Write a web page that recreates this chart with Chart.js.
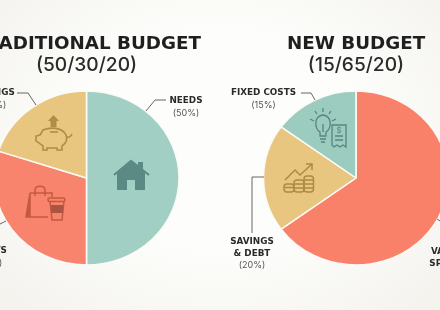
<!DOCTYPE html>
<html>
<head>
<meta charset="utf-8">
<title>Budget comparison</title>
<script src="https://cdn.jsdelivr.net/npm/chart.js@4/dist/chart.umd.min.js"></script>
<style>
html, body { margin: 0; padding: 0; }
body {
    width: 440px; height: 310px; position: relative; overflow: hidden;
    background: radial-gradient(ellipse at 50% 45%, #fdfdfb 45%, #f3f2ed 100%);
    font-family: "Inter", sans-serif; color: #2b2b2b;
}
canvas { position: absolute; top: 0; }
svg { position: absolute; left: 0; top: 0; }
.lbl { position: absolute; transform: translateX(-50%); text-align: center; white-space: nowrap; font-family: "DejaVu Sans", sans-serif; font-size: 8.8px; line-height: 11.5px; font-weight: 700; color: #2a2a2a; }
.lbl span { display: block; font-family: "Inter", sans-serif; font-size: 9px; font-weight: 400; color: #555; }
</style>
</head>
<body>
<canvas id="left-pie" width="253" height="310" style="left:-40px"></canvas>
<canvas id="right-pie" width="240" height="310" style="left:238px"></canvas>

<svg width="440" height="310" fill="none">
    <!-- leader lines -->
    <g stroke="#555" stroke-width="0.9">
        <polyline points="146,111 155,100 166,100"/>
        <polyline points="17,93 28,93 36,105"/>
        <polyline points="0,224 6,221"/>
        <polyline points="301,93 311,93 315,100"/>
        <polyline points="264,177 252,177 252,233"/>
        <polyline points="437,219 440,221"/>
    </g>
    <!-- house -->
    <g fill="#5b8a84">
        <path d="M117,172 L131,162 L145,172 V190 H135 V180 H127 V190 H117 Z"/>
        <rect x="138" y="162" width="5" height="9"/>
    </g>
    <polyline points="114,175 131,161 149,175" stroke="#5b8a84" stroke-width="2.2"/>
    <!-- piggy bank -->
    <path d="M53.500,115 L59,121 H56.500 V127 H50.500 V121 H48 Z" fill="#b08d47"/>
    <g stroke="#b08d47" stroke-width="1.600">
        <path d="M43,130 C50,127 62,127 66,135 C68,140 65,144 62,146 V150 H57 V148 H47 V150 H43 V146 C40,144 38,142 36,141 V136 L40,135 Z"/>
        <path d="M66,137 C69,138 71,136 72,134"/>
        <path d="M50,132 H58"/>
    </g>
    <!-- bag and cup -->
    <g stroke="#c4593f" stroke-width="1.500">
        <path d="M30,193 H52 V197 M48,217 H26 L30,193 V217"/>
        <path d="M35,196 V190 C35,185 45,185 45,190 V196"/>
        <path d="M50,201 L52,220 H62 L64,201"/>
        <rect x="48" y="198" width="17" height="3.500" rx="1.500"/>
    </g>
    <path d="M30,193 L26,217 H30 Z" fill="#c4593f"/>
    <rect x="51" y="205" width="12" height="8" fill="#a9553f"/>
    <!-- bulb and receipt -->
    <g stroke="#55867f" stroke-width="1.300">
        <path d="M320,136 V132 C314,128 314,116 323,115 C332,116 332,128 326,132 V136 Z"/>
        <path d="M320,139 H326 M321,142 H325 M323,132 V124"/>
        <path d="M310,119 L314,121 M315,111 L317,114 M323,108 V112 M331,111 L329,114 M336,119 L332,121"/>
        <path d="M332,125 H346 V147 L343,145 L340,147 L337,145 L334,147 L332,145 Z"/>
        <path d="M335,136 H343 M335,140 H343"/>
    </g>
    <text x="339" y="133" font-size="8" fill="#55867f" text-anchor="middle" font-family="Inter">$</text>
    <!-- coins and arrow -->
    <g stroke="#ad8a45" stroke-width="1.500">
        <polyline points="285,180 295,170 300,175 312,164"/>
        <polyline points="306,164 312,164 312,170"/>
        <rect x="284" y="184" width="10" height="8" rx="3"/>
        <path d="M284,187.500 H294"/>
        <rect x="294" y="180" width="10" height="12" rx="3"/>
        <path d="M294,184 H304 M294,188 H304"/>
        <rect x="304" y="176" width="9.500" height="16" rx="3"/>
        <path d="M304,180 H313.500 M304,184 H313.500 M304,188 H313.500"/>
    </g>
</svg>

<div id="labels"></div>

<script>
const leftTitle = "TRADITIONAL BUDGET";
const leftSubtitle = "(50/30/20)";
const leftCategories = ["NEEDS", "WANTS", "SAVINGS"];
const leftValues = [50, 30, 20];
const leftColors = ["#a2cfc4", "#f9846d", "#e8c67f"];

const rightTitle = "NEW BUDGET";
const rightSubtitle = "(15/65/20)";
const rightCategories = ["VARIABLE SPENDING", "SAVINGS & DEBT", "FIXED COSTS"];
const rightValues = [65, 20, 15];
const rightColors = ["#f98169", "#e8c67f", "#9ccbc0"];

// the pies in the picture are slightly wider than tall
const stretchX = {
    id: "stretchX",
    beforeDatasetsDraw(chart) {
        const arc = chart.getDatasetMeta(0).data[0];
        const ctx = chart.ctx;
        ctx.save();
        ctx.translate(arc.x, 0);
        ctx.scale(92 / 86.5, 1);
        ctx.translate(-arc.x, 0);
    },
    afterDatasetsDraw(chart) {
        chart.ctx.restore();
    }
};

function makePie(id, title, subtitle, categories, values, colors, paddingRight) {
    new Chart(document.getElementById(id), {
        type: "pie",
        data: {
            labels: categories,
            datasets: [{
                data: values,
                backgroundColor: colors,
                borderColor: "#fbfaf6",
                borderWidth: 1.5,
                clip: false
            }]
        },
        options: {
            responsive: false,
            animation: false,
            radius: 87,
            layout: { padding: { top: 0, bottom: 46, right: paddingRight } },
            plugins: {
                legend: { display: false },
                tooltip: { enabled: false },
                title: {
                    display: true,
                    text: title,
                    color: "#1f1f1f",
                    font: { family: "DejaVu Sans", size: 18.3, weight: "bold" },
                    padding: { top: 33, bottom: 0 }
                },
                subtitle: {
                    display: true,
                    text: subtitle,
                    color: "#2b2b2b",
                    font: { family: "Inter", size: 19.2, weight: "500" },
                    padding: { top: -1, bottom: 15 }
                }
            }
        },
        plugins: [stretchX]
    });
}

makePie("left-pie", leftTitle, leftSubtitle, leftCategories, leftValues, leftColors, 0);
makePie("right-pie", rightTitle, rightSubtitle, rightCategories, rightValues, rightColors, 4);

const labelSpots = [
    { x: 186, y: 95, html: "NEEDS<span>(50%)</span>" },
    { x: -7, y: 87, html: "SAVINGS<span>(20%)</span>" },
    { x: -11, y: 245, html: "WANTS<span>(30%)</span>" },
    { x: 263.5, y: 87, html: "FIXED COSTS<span>(15%)</span>" },
    { x: 252, y: 236, html: "SAVINGS<br>&amp; DEBT<span>(20%)</span>" },
    { x: 455, y: 246, html: "VARIABLE<br>SPENDING<span>(65%)</span>" }
];

let labelEntries = "";
labelSpots.forEach((spot) => {
    labelEntries += `<div class="lbl" style="left:${spot.x}px;top:${spot.y}px">${spot.html}</div>`;
});
document.getElementById("labels").innerHTML = labelEntries;
</script>
</body>
</html>
